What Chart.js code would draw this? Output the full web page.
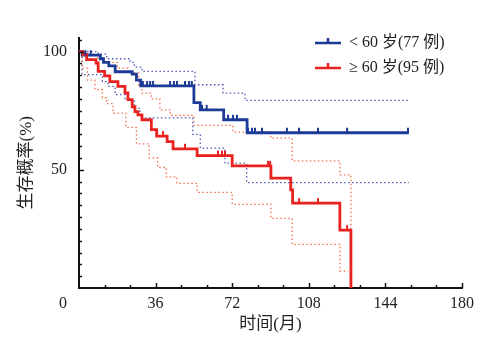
<!DOCTYPE html>
<html>
<head>
<meta charset="utf-8">
<script src="https://cdn.jsdelivr.net/npm/chart.js@4"></script>
<style>
	html, body { margin: 0; padding: 0; background: #fff; }
</style>
</head>
<body>
<canvas id="km" width="490" height="344"></canvas>
<script>
// survival curves (months, %)
const youngTimes = [0, 1.5, 10, 11.5, 14, 17, 25, 27, 29, 54, 57, 68, 79, 155];
const youngSurv = [100, 98.5, 97, 95.5, 94, 91.5, 90.5, 88, 85.5, 78.4, 75.4, 71.2, 65.7, 65.7];
const youngUpTimes = [0, 9, 13, 24, 26, 29.6, 54.5, 67.7, 78, 155];
const youngUp = [100, 99, 97, 95.5, 93.5, 91.7, 86, 82.5, 79.4, 79.4];
const youngLowTimes = [0, 1.4, 11, 13.6, 17, 21.6, 26, 28.7, 53.5, 57, 68.6, 78.8, 155];
const youngLow = [100, 90.3, 87.3, 85.3, 81.8, 79.7, 76, 72, 65, 59.2, 52.8, 44.6, 44.6];
const youngCensor = [3, 5.5, 30, 32, 33.4, 34.8, 42.8, 44.6, 46, 49.8, 51.7, 53, 57.8, 60, 70, 72.4, 74.2, 79.4, 81.3, 82.7, 86, 97.7, 103.4, 112.3, 126, 154.6];

const oldTimes = [0, 2, 3.6, 8, 9, 12, 14.5, 18.3, 21.6, 23, 25, 26.3, 27.7, 29.6, 34, 36.5, 41.4, 44.2, 55.5, 72, 90.2, 99.5, 100.4, 122.6, 127.8];
const oldSurv = [100, 98.8, 96.6, 95.2, 91.7, 89.8, 87.3, 85.3, 82.6, 79.7, 76.7, 74.6, 73.3, 71.2, 67, 64.3, 61.9, 58.9, 56, 51.7, 46.5, 41.5, 35.9, 24.5, 0];
const oldUpTimes = [0, 3, 8, 12, 18, 23, 28, 29.5, 34, 38, 43, 54, 72.4, 90.2, 100.2, 122.6, 127.8];
const oldUp = [100, 99, 97.5, 95.5, 93, 91, 86, 82.5, 80, 75.4, 73, 68.8, 66, 63.4, 53.8, 47.9, 24.5];
const oldLowTimes = [0, 1.5, 4, 7.5, 11, 13, 16, 22, 27, 33, 37, 41, 46, 55.5, 72, 90.2, 100.2, 122.6, 126.5];
const oldLow = [100, 93, 88, 84, 80.5, 78, 74, 68, 61, 55, 51, 47, 44.3, 40.5, 35.4, 29.5, 18.5, 7.2, 7.2];
const oldCensor = [39.5, 49.8, 65.3, 67.2, 68.6, 88.8, 89.8, 103.4, 112.3, 126];

const seriesLabels = ['< 60 岁(77 例)', '≥ 60 岁(95 例)'];
const xTickLabels = [36, 72, 108, 144, 180];
const yTickLabels = [50, 100];

const BLUE = '#1b3b96';
const RED = '#e8231f';
const BLUE_CI = '#4a58b8';
const RED_CI = '#f0704c';
const FONT = '"Liberation Serif", "Noto Sans CJK SC", serif';
const TEXT = '#222';

function toPoints(times, vals) {
	return times.map((t, i) => ({ x: t, y: vals[i] }));
}

// value of a step curve at time t
function survAt(times, vals, t) {
	let v = vals[0];
	for (let i = 0; i < times.length; i++) {
		if (times[i] <= t) v = vals[i];
	}
	return v;
}

function censorMark(color) {
	let c = document.createElement('canvas');
	c.width = 4;
	c.height = 12;
	let g = c.getContext('2d');
	g.fillStyle = color;
	g.fillRect(1, 1, 2, 5.5);
	return c;
}

function stepLine(data, color, width, dash, order) {
	return {
		data: data,
		borderColor: color,
		borderWidth: width,
		borderDash: dash || [],
		stepped: 'before',
		pointRadius: 0,
		fill: false,
		order: order
	};
}

function censorSet(times, curveT, curveS, color) {
	return {
		type: 'scatter',
		data: times.map(t => ({ x: t, y: survAt(curveT, curveS, t) })),
		pointStyle: censorMark(color),
		pointRadius: 5,
		order: 0
	};
}

const extras = {
	id: 'extras',
	afterDraw(chart) {
		let ctx = chart.ctx;
		let x = chart.scales.x;
		let y = chart.scales.y;
		let area = chart.chartArea;
		ctx.save();
		ctx.strokeStyle = '#111';
		ctx.lineWidth = 1.5;
		ctx.beginPath();
		x.ticks.forEach(t => {
			if (t.value <= 0) return;
			let px = Math.round(x.getPixelForValue(t.value)) + 0.5;
			let len = t.value % 36 === 0 ? 5 : 3;
			ctx.moveTo(px, area.bottom);
			ctx.lineTo(px, area.bottom - len);
		});
		y.ticks.forEach(t => {
			if (t.value <= 0) return;
			let py = Math.round(y.getPixelForValue(t.value)) + 0.5;
			let len = t.value % 50 === 0 ? 5 : 3;
			ctx.moveTo(area.left, py);
			ctx.lineTo(area.left + len, py);
		});
		ctx.stroke();

		// shared origin label
		ctx.fillStyle = TEXT;
		ctx.font = '16px ' + FONT;
		ctx.textAlign = 'center';
		ctx.textBaseline = 'middle';
		ctx.fillText('0', x.getPixelForValue(0) - 16, area.bottom + 16);

		// legend
		let colors = [BLUE, RED];
		ctx.font = '16px ' + FONT;
		ctx.textAlign = 'left';
		seriesLabels.forEach((lab, i) => {
			let ly = 43 + i * 25;
			ctx.strokeStyle = colors[i];
			ctx.lineWidth = 2.5;
			ctx.beginPath();
			ctx.moveTo(315, ly);
			ctx.lineTo(341, ly);
			ctx.moveTo(328, ly);
			ctx.lineTo(328, ly - 5);
			ctx.stroke();
			ctx.fillStyle = TEXT;
			ctx.fillText(lab, 349, ly);
		});
		ctx.restore();
	}
};

new Chart(document.getElementById('km'), {
	type: 'line',
	data: {
		datasets: [
			censorSet(oldCensor, oldTimes, oldSurv, RED),
			censorSet(youngCensor, youngTimes, youngSurv, BLUE),
			stepLine(toPoints(oldTimes, oldSurv), RED, 2.8, null, 1),
			stepLine(toPoints(youngTimes, youngSurv), BLUE, 2.8, null, 2),
			stepLine(toPoints(oldUpTimes, oldUp), RED_CI, 1.3, [1.5, 2.5], 3),
			stepLine(toPoints(oldLowTimes, oldLow), RED_CI, 1.3, [1.5, 2.5], 3),
			stepLine(toPoints(youngUpTimes, youngUp), BLUE_CI, 1.3, [1.5, 2.5], 4),
			stepLine(toPoints(youngLowTimes, youngLow), BLUE_CI, 1.3, [1.5, 2.5], 4)
		]
	},
	options: {
		responsive: false,
		animation: false,
		layout: { padding: { top: 37.5, right: 28, left: 0, bottom: 0 } },
		plugins: { legend: { display: false }, tooltip: { enabled: false } },
		scales: {
			x: {
				type: 'linear',
				min: 0,
				max: 180,
				grid: { display: false, drawTicks: false },
				border: { display: true, color: '#111', width: 2 },
				ticks: {
					stepSize: 12,
					padding: 6,
					maxRotation: 0,
					autoSkip: false,
					color: TEXT,
					font: { family: FONT, size: 16 },
					callback: v => xTickLabels.includes(v) ? String(v) : ''
				},
				title: {
					display: true,
					text: '时间(月)',
					color: TEXT,
					font: { family: FONT, size: 17 },
					padding: { top: 0, bottom: 9 }
				},
				afterFit: s => { s.height = 56; }
			},
			y: {
				min: 0,
				max: 106,
				grid: { display: false, drawTicks: false },
				border: { display: true, color: '#111', width: 2 },
				ticks: {
					stepSize: 5,
					includeBounds: false,
					padding: 12,
					autoSkip: false,
					color: TEXT,
					font: { family: FONT, size: 16 },
					callback: v => yTickLabels.includes(v) ? String(v) : ''
				},
				title: {
					display: true,
					text: '生存概率(%)',
					color: TEXT,
					font: { family: FONT, size: 17 },
					padding: { top: 16, bottom: 0 }
				},
				afterFit: s => { s.width = 79; }
			}
		}
	},
	plugins: [extras]
});
</script>
</body>
</html>
